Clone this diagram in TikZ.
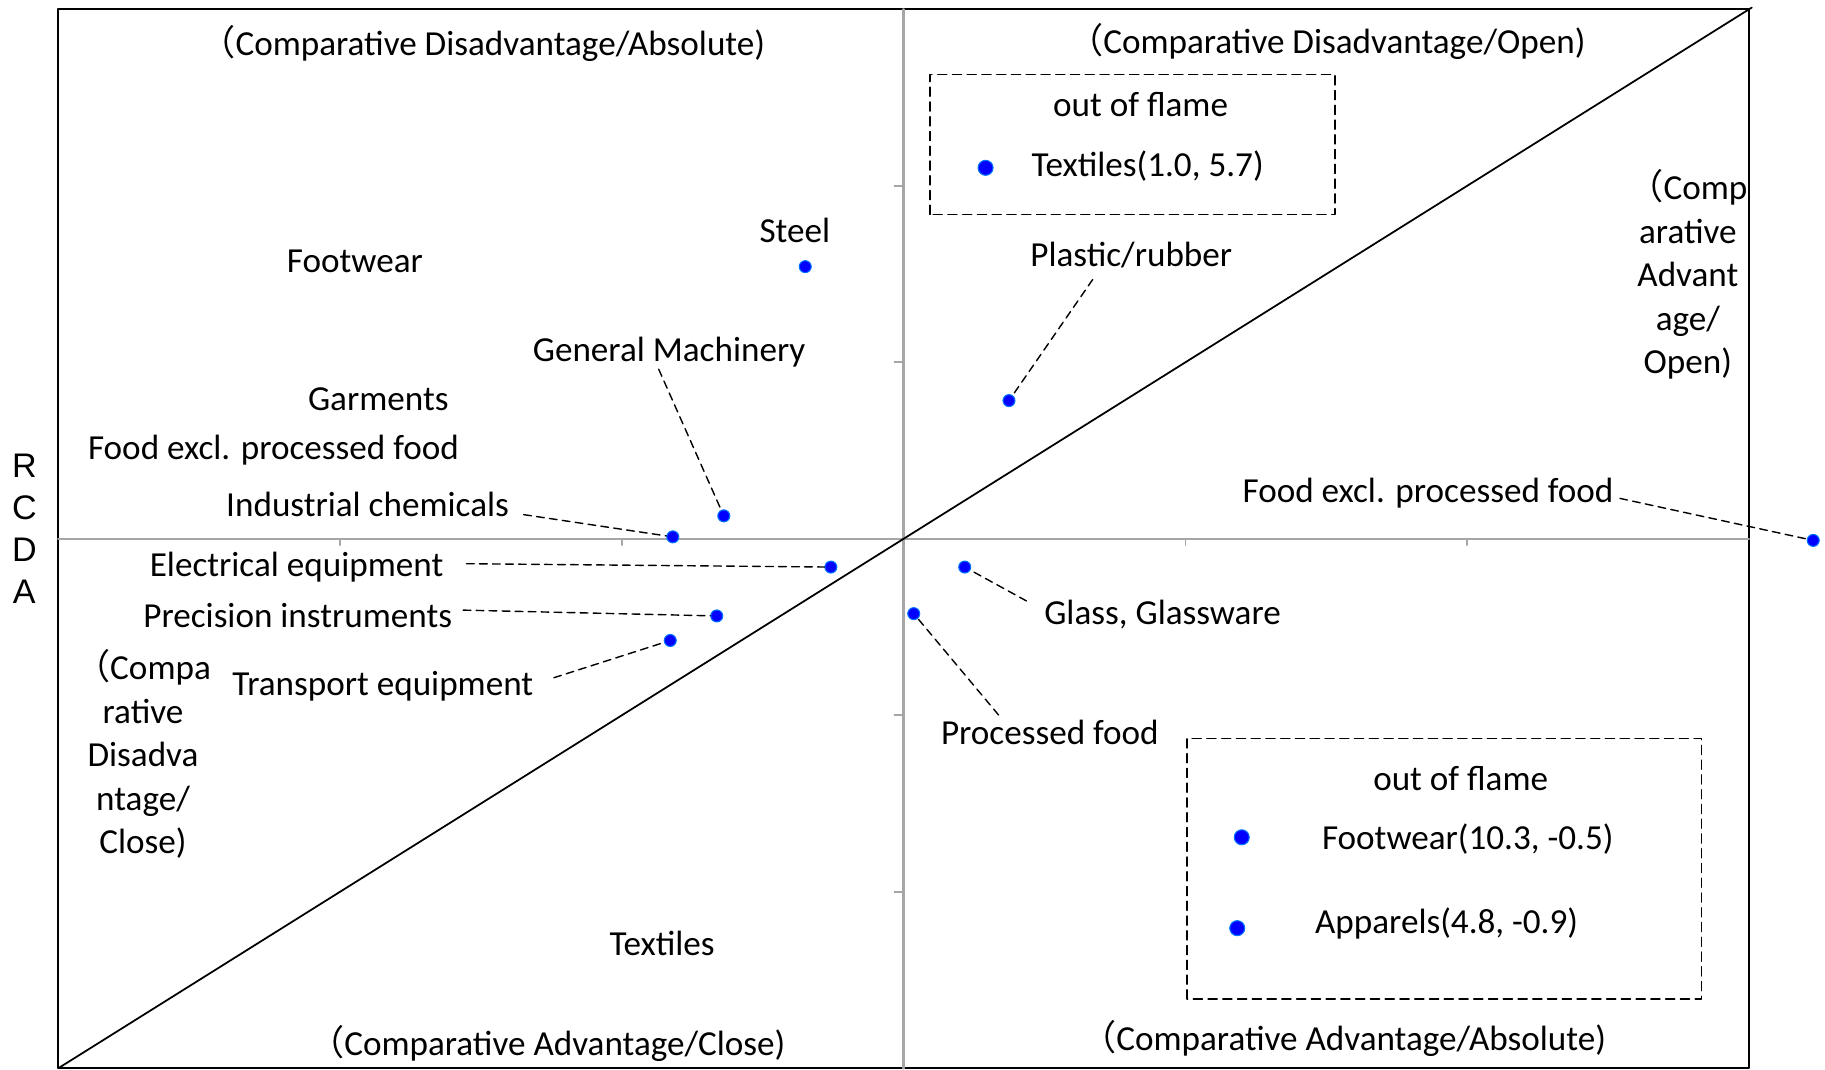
\documentclass[tikz,border=0pt]{standalone}
\usepackage{fontspec}
\setmainfont{Carlito}
\newfontfamily\cjk{Noto Sans CJK JP}
\newfontfamily\rcdafont{Liberation Sans}
\usetikzlibrary{positioning}
\begin{document}
\begin{tikzpicture}[x=2.818cm, y=1.765cm, line join=round, line cap=round]
		\tikzset{lbl/.style={font=\fontsize{10}{12.4}\selectfont, inner sep=0pt, text height=8pt, text depth=1pt},
		blk/.style={font=\fontsize{10}{12.4}\selectfont, inner sep=0pt, align=center},
		pt/.style={circle, fill=blue, draw=blue!55!cyan, line width=.3pt, inner sep=0pt, minimum size=1.2mm},
		bigpt/.style={pt, minimum size=1.5mm},
		lead/.style={thin, dash pattern=on 2.2pt off 1.5pt},
		flamebox/.style={thin, dash pattern=on 2.6pt off 1.6pt}}
		\useasboundingbox (-3.2065,-3.004) rectangle (3.2697,3.0527);
		\draw[line width=.5pt] (-3,-3) rectangle (3,3);
		\draw[gray!70, line width=.7pt] (-3,0)--(3,0);
		\draw[gray!70, line width=.7pt] (0,-3)--(0,3);
		\foreach \x in {-2,-1,1,2}
		\draw[gray!70, line width=.5pt] (\x,0)--++(0,-1.8pt);
		\foreach \y in {-2,-1,1,2}
		\draw[gray!70, line width=.5pt] (0,\y)--++(-2.6pt,0);
		\draw[line width=.5pt] (-3,-3)--(3.01,3.01);
		% quadrant titles
		\node[lbl, anchor=east] (tl) at (-0.489,2.808) {{\cjk （}Comparative Disadvantage/Absolute)};
		\node[lbl, anchor=east] (tr) at (2.422,2.822) {{\cjk （}Comparative Disadvantage/Open)};
		\node[lbl, anchor=east] (bl) at (-0.417,-2.858) {{\cjk （}Comparative Advantage/Close)};
		\node[lbl, anchor=east] (br) at (2.495,-2.829) {{\cjk （}Comparative Advantage/Absolute)};
		\node[blk] (rblk) at (2.783,1.498) {{\cjk （}Comp\\arative\\Advant\\age/\\Open)};
		\node[blk] (lblk) at (-2.699,-1.220) {{\cjk （}Compa\\rative\\Disadva\\ntage/\\Close)};
		\node[blk, font=\rcdafont\fontsize{9.7}{11.9}\selectfont] (rcda) at (-3.120,0.057) {R\\C\\D\\A};
		% out of flame
		\draw[flamebox] (0.093,1.838) rectangle (1.531,2.630);
		\draw[flamebox] (1.006,-2.607) rectangle (2.832,-1.130);
		\node[lbl] (oof1) at (0.841,2.465) {out of flame};
		\node[bigpt] (ltex) at (0.291,2.102) {};
		\node[lbl] (tex1) at (0.866,2.121) {Textiles(1.0, 5.7)};
		\node[lbl] (oof2) at (1.977,-1.354) {out of flame};
		\node[bigpt] (lfoot) at (1.200,-1.691) {};
		\node[lbl] (foot2) at (2.002,-1.691) {Footwear(10.3, -0.5)};
		\node[bigpt] (lapp) at (1.184,-2.206) {};
		\node[lbl] (app2) at (1.927,-2.166) {Apparels(4.8, -0.9)};
		% labels without points
		\node[lbl] (footL) at (-1.947,1.581) {Footwear};
		\node[lbl] (garm) at (-1.864,0.796) {Garments};
		\node[lbl] (foodL) at (-2.236,0.519) {Food excl. processed food};
		\node[lbl] (texL) at (-0.857,-2.291) {Textiles};
		% points
		\node[pt] (steel) at (-0.349,1.542) {};
		\node[pt] (gmach) at (-0.638,0.130) {};
		\node[pt] (ichem) at (-0.819,0.011) {};
		\node[pt] (plast) at (0.374,0.783) {};
		\node[pt] (foodr) at (3.228,-0.009) {};
		\node[pt] (elec) at (-0.258,-0.160) {};
		\node[pt] (prec) at (-0.663,-0.437) {};
		\node[pt] (trans) at (-0.828,-0.576) {};
		\node[pt] (glass) at (0.217,-0.160) {};
		\node[pt] (pfood) at (0.036,-0.424) {};
		\node[lbl] (steelL) at (-0.386,1.746) {Steel};
		\node[lbl] (gmachL) at (-0.832,1.073) {General Machinery};
		\node[lbl] (ichemL) at (-1.902,0.196) {Industrial chemicals};
		\node[lbl] (plastL) at (0.808,1.614) {Plastic/rubber};
		\node[lbl] (foodrL) at (1.861,0.275) {Food excl. processed food};
		\node[lbl] (elecL) at (-2.154,-0.141) {Electrical equipment};
		\node[lbl] (precL) at (-2.150,-0.431) {Precision instruments};
		\node[lbl] (transL) at (-1.848,-0.820) {Transport equipment};
		\node[lbl] (glassL) at (0.919,-0.418) {Glass, Glassware};
		\node[lbl] (pfoodL) at (0.519,-1.097) {Processed food};
		% leaders
		\coordinate (gm0) at (-0.869,0.961);
		\coordinate (ic0) at (-1.348,0.137);
		\coordinate (pl0) at (0.671,1.469);
		\coordinate (fr0) at (2.542,0.229);
		\coordinate (el0) at (-1.551,-0.141);
		\coordinate (pr0) at (-1.563,-0.404);
		\coordinate (tr0) at (-1.241,-0.787);
		\coordinate (gl0) at (0.436,-0.352);
		\coordinate (pf0) at (0.337,-0.998);
		\draw[lead] (gm0)--(gmach);
		\draw[lead] (ic0)--(ichem);
		\draw[lead] (pl0)--(plast);
		\draw[lead] (fr0)--(foodr);
		\draw[lead] (el0)--(elec);
		\draw[lead] (pr0)--(prec);
		\draw[lead] (tr0)--(trans);
		\draw[lead] (gl0)--(glass);
		\draw[lead] (pf0)--(pfood);
\end{tikzpicture}
\end{document}
